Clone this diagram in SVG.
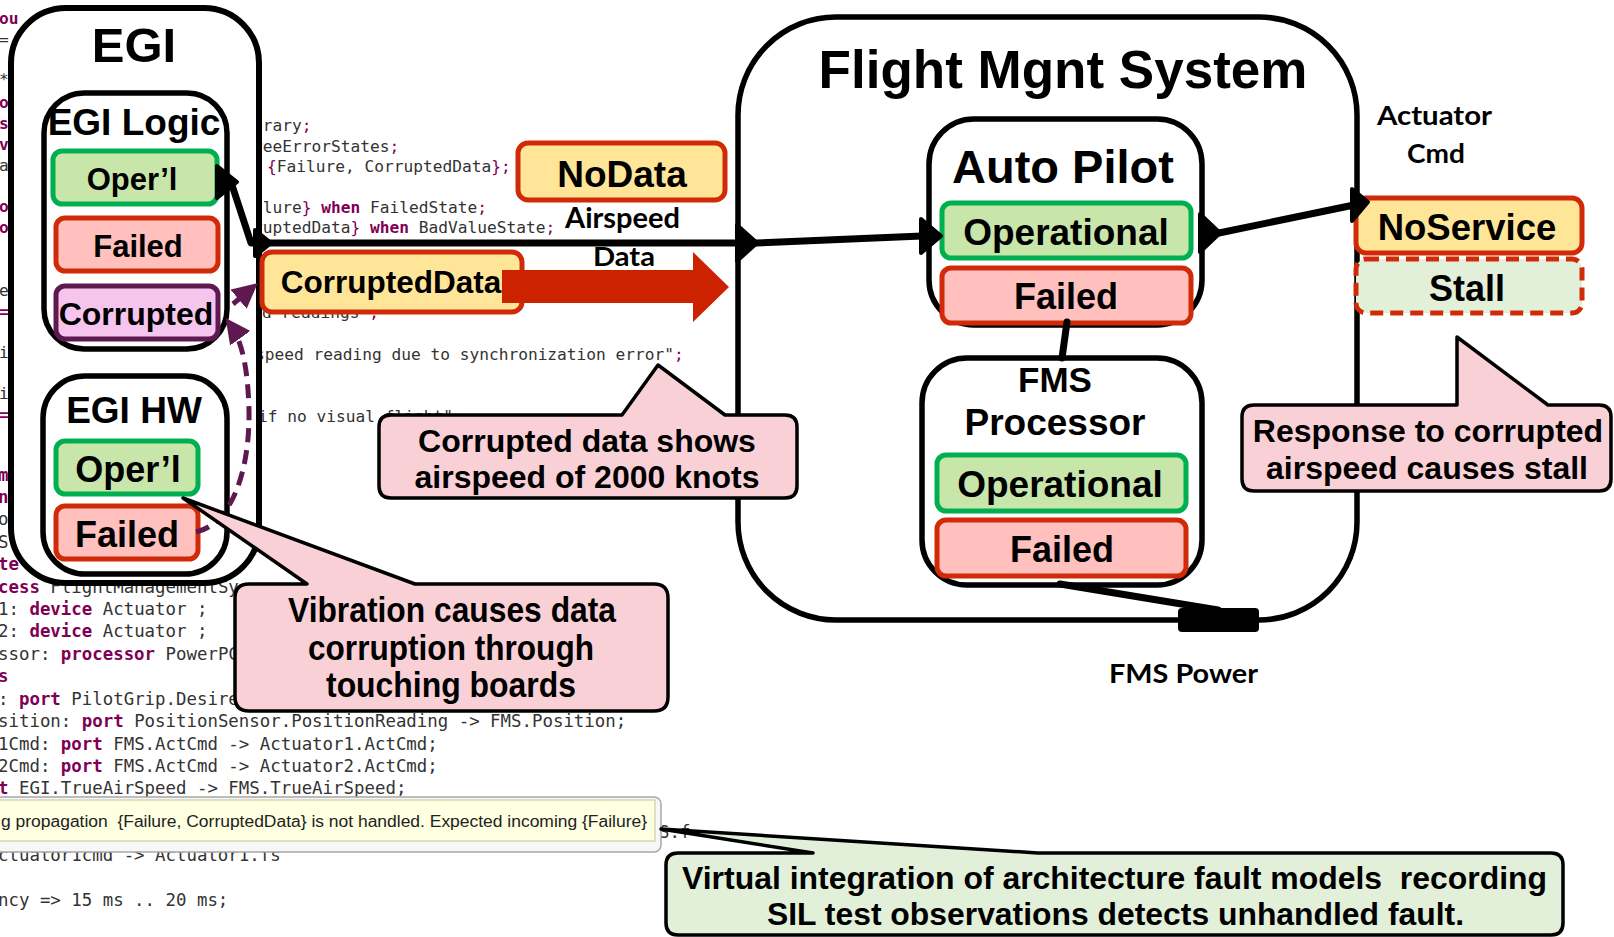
<svg xmlns="http://www.w3.org/2000/svg" width="1614" height="937" viewBox="0 0 1614 937">
  <style>
    .code { font-family: "DejaVu Sans Mono", "Liberation Mono", monospace; font-size: 16.2px; fill: #333333; }
    .codeb { font-family: "DejaVu Sans Mono", "Liberation Mono", monospace; font-size: 17.4px; fill: #333333; }
    .kw { fill: #7F0055; font-weight: bold; }
    .pn { fill: #7F0055; }
    .lbl { font-family: "Liberation Sans", Arial, sans-serif; font-weight: bold; fill: #000; text-anchor: middle; }
    .cond { font-family: "Liberation Sans", Arial, sans-serif; font-weight: bold; fill: #000; }
    .cal { font-family: Lato, "Open Sans", sans-serif; font-weight: bold; fill: #000; }
    .cont { fill: #fff; stroke: #000; }
    .oper { fill: #C8E6AA; stroke: #00B050; stroke-width: 5; }
    .fail { fill: #FFC0BE; stroke: #D12A08; stroke-width: 5; }
    .corr { fill: #F6C5EE; stroke: #5E1A50; stroke-width: 5; }
    .err { fill: #FFE597; stroke: #D12A08; stroke-width: 5; }
    .stall { fill: #E2EFD9; stroke: #D12A08; stroke-width: 5; stroke-dasharray: 13 7; }
    .callout { fill: #F9D0D6; stroke: #000; stroke-width: 3.5; stroke-linejoin: round; }
    .callg { fill: #E2EFD9; stroke: #000; stroke-width: 3.5; stroke-linejoin: round; }
    .wire { fill: none; stroke: #000; stroke-width: 7; stroke-linecap: round; stroke-linejoin: round; }
    .port { fill: #000; stroke: #000; stroke-width: 4; stroke-linejoin: round; }
    .prop { fill: none; stroke: #5E1A50; stroke-width: 5; stroke-dasharray: 14 8; }
  </style>
  <defs>
    <marker id="purpleHead" viewBox="0 0 10 10" refX="7" refY="5" markerWidth="5" markerHeight="5" orient="auto" markerUnits="strokeWidth">
      <path d="M0,0 L10,5 L0,10 Z" fill="#5E1A50"/>
    </marker>
  </defs>

  <rect width="1614" height="937" fill="#fff"/>

  <!-- AADL source listing in the background -->
  <g id="source-listing">
    <text class="code" x="-1" y="24"><tspan class="kw">ou</tspan></text>
    <text class="code" x="-1" y="45">=</text>
    <text class="code" x="-1" y="85">*</text>
    <text class="code" x="-1" y="108"><tspan class="kw">o</tspan></text>
    <text class="code" x="-1" y="129"><tspan class="kw">s</tspan></text>
    <text class="code" x="-1" y="150"><tspan class="kw">v</tspan></text>
    <text class="code" x="-1" y="171">a</text>
    <text class="code" x="-1" y="212"><tspan class="kw">o</tspan></text>
    <text class="code" x="-1" y="233"><tspan class="kw">o</tspan></text>
    <text class="code" x="-1" y="296">e</text>
    <text class="code" x="-1" y="317"><tspan class="kw">=</tspan></text>
    <text class="code" x="-1" y="358">i</text>
    <text class="code" x="-1" y="399">i</text>
    <text class="code" x="-1" y="420"><tspan class="kw">=</tspan></text>

    <text class="code" x="253" y="131">brary<tspan class="pn">;</tspan></text>
    <text class="code" x="253" y="152">reeErrorStates<tspan class="pn">;</tspan></text>
    <text class="code" x="267" y="172"><tspan class="pn">{</tspan>Failure, CorruptedData<tspan class="pn">};</tspan></text>
    <text class="code" x="253" y="213">ilure<tspan class="pn">}</tspan> <tspan class="kw">when</tspan> FailedState<tspan class="pn">;</tspan></text>
    <text class="code" x="253" y="233">ruptedData<tspan class="pn">}</tspan> <tspan class="kw">when</tspan> BadValueState<tspan class="pn">;</tspan></text>
    <text class="code" x="262" y="318">d readings"<tspan class="pn">;</tspan></text>
    <text class="code" x="255" y="360">speed reading due to synchronization error"<tspan class="pn">;</tspan></text>
    <text class="code" x="258" y="422">if no visual flight"<tspan class="pn">;</tspan></text>

    <text class="codeb" x="-2" y="481"><tspan class="kw">m</tspan></text>
    <text class="codeb" x="-2" y="503"><tspan class="kw">n</tspan></text>
    <text class="codeb" x="-2" y="525">o</text>
    <text class="codeb" x="-2" y="548">S</text>
    <text class="codeb" x="-2" y="570"><tspan class="kw">te</tspan></text>
    <text class="codeb" x="-2" y="593"><tspan class="kw">cess</tspan> FlightManagementSy</text>
    <text class="codeb" x="-2" y="615">1: <tspan class="kw">device</tspan> Actuator ;</text>
    <text class="codeb" x="-2" y="637">2: <tspan class="kw">device</tspan> Actuator ;</text>
    <text class="codeb" x="-2" y="660">ssor: <tspan class="kw">processor</tspan> PowerPC</text>
    <text class="codeb" x="-2" y="682"><tspan class="kw">s</tspan></text>
    <text class="codeb" x="-2" y="705">: <tspan class="kw">port</tspan> PilotGrip.Desire</text>
    <text class="codeb" x="-2" y="727">sition: <tspan class="kw">port</tspan> PositionSensor.PositionReading -&gt; FMS.Position;</text>
    <text class="codeb" x="-2" y="750">1Cmd: <tspan class="kw">port</tspan> FMS.ActCmd -&gt; Actuator1.ActCmd;</text>
    <text class="codeb" x="-2" y="772">2Cmd: <tspan class="kw">port</tspan> FMS.ActCmd -&gt; Actuator2.ActCmd;</text>
    <text class="codeb" x="-2" y="794"><tspan class="kw">t</tspan> EGI.TrueAirSpeed -&gt; FMS.TrueAirSpeed;</text>
    <line x1="18" y1="798" x2="410" y2="798" stroke="#C07070" stroke-width="1.5" stroke-dasharray="2 2"/>
    <text class="codeb" x="659" y="838">S.f</text>
    <text class="codeb" x="-2" y="861">ctuator1cmd -&gt; Actuator1.fs</text>
    <text class="codeb" x="-2" y="906">ncy =&gt; 15 ms .. 20 ms;</text>
  </g>

  <!-- EGI -->
  <g id="egi">
    <rect class="cont" x="11" y="8" width="248" height="575" rx="55" stroke-width="6"/>
    <text class="lbl" x="134" y="62" font-size="49">EGI</text>
  </g>
  <g id="egi-logic">
    <rect class="cont" x="44" y="93" width="183" height="256" rx="40" stroke-width="5.5"/>
    <text class="lbl" x="134" y="135" font-size="37">EGI Logic</text>
    <rect class="oper" x="53" y="151" width="164" height="53" rx="9"/>
    <text class="lbl" x="132" y="190" font-size="31">Oper’l</text>
    <rect class="fail" x="56" y="218" width="162" height="53" rx="9"/>
    <text class="lbl" x="138" y="257" font-size="31">Failed</text>
    <rect class="corr" x="56" y="286" width="162" height="53" rx="9"/>
    <text class="lbl" x="136" y="325" font-size="32">Corrupted</text>
  </g>
  <g id="egi-hw">
    <rect class="cont" x="43" y="376" width="184" height="198" rx="42" stroke-width="5.5"/>
    <text class="lbl" x="134" y="423" font-size="37">EGI HW</text>
    <rect class="oper" x="56" y="441" width="142" height="53" rx="9"/>
    <text class="lbl" x="128" y="482" font-size="36">Oper’l</text>
    <rect class="fail" x="56" y="506" width="142" height="53" rx="9"/>
    <text class="lbl" x="127" y="547" font-size="36">Failed</text>
  </g>

  <!-- Flight management system -->
  <g id="fms">
    <rect class="cont" x="738" y="17" width="619" height="603" rx="98" stroke-width="5.5"/>
    <text class="lbl" x="1063" y="88" font-size="53">Flight Mgnt System</text>
  </g>
  <g id="auto-pilot">
    <rect class="cont" x="929" y="119" width="273" height="206" rx="45" stroke-width="5.5"/>
    <text class="lbl" x="1063" y="183" font-size="47">Auto Pilot</text>
    <rect class="oper" x="942" y="203" width="249" height="55" rx="9"/>
    <text class="lbl" x="1066" y="245" font-size="37">Operational</text>
    <rect class="fail" x="942" y="268" width="249" height="55" rx="9"/>
    <text class="lbl" x="1066" y="309" font-size="36">Failed</text>
  </g>
  <g id="fms-processor">
    <rect class="cont" x="922" y="358" width="280" height="227" rx="45" stroke-width="5.5"/>
    <text class="lbl" x="1055" y="392" font-size="35">FMS</text>
    <text class="lbl" x="1055" y="435" font-size="37">Processor</text>
    <rect class="oper" x="937" y="455" width="249" height="56" rx="9"/>
    <text class="lbl" x="1060" y="497" font-size="37">Operational</text>
    <rect class="fail" x="937" y="520" width="249" height="56" rx="9"/>
    <text class="lbl" x="1062" y="562" font-size="36">Failed</text>
  </g>
  <g id="fms-power">
    <rect x="1178" y="608" width="81" height="24" rx="4" fill="#000"/>
    <text class="cal" x="1109" y="683" font-size="26" textLength="149" lengthAdjust="spacingAndGlyphs">FMS Power</text>
  </g>

  <!-- Error types on the airspeed port -->
  <g id="nodata">
    <rect class="err" x="518" y="143" width="207" height="57" rx="10"/>
    <text class="lbl" x="622" y="187" font-size="37">NoData</text>
  </g>
  <g id="airspeed-label">
    <text class="cal" x="565" y="228" font-size="28" textLength="115" lengthAdjust="spacingAndGlyphs">Airspeed</text>
    <text class="cal" x="593" y="266" font-size="27" textLength="62" lengthAdjust="spacingAndGlyphs">Data</text>
  </g>
  <g id="corrupteddata">
    <rect class="err" x="262" y="252" width="260" height="60" rx="10"/>
    <text class="lbl" x="391" y="293" font-size="31.5">CorruptedData</text>
  </g>
  <g id="propagation-arrow">
    <polygon points="502,270 693,270 693,252 729,287 693,322 693,303 502,303" fill="#CC2200"/>
  </g>

  <!-- Actuator command errors -->
  <g id="actuator-label">
    <text class="cal" x="1377" y="125" font-size="26" textLength="115" lengthAdjust="spacingAndGlyphs">Actuator</text>
    <text class="cal" x="1407" y="163" font-size="26" textLength="58" lengthAdjust="spacingAndGlyphs">Cmd</text>
  </g>
  <g id="noservice">
    <rect class="err" x="1356" y="198" width="226" height="55" rx="10"/>
    <text class="lbl" x="1467" y="240" font-size="36.5">NoService</text>
  </g>
  <g id="stall">
    <rect class="stall" x="1356" y="259" width="226" height="54" rx="10"/>
    <text class="lbl" x="1467" y="301" font-size="36">Stall</text>
  </g>

  <!-- Connections, ports and error flows -->
  <g id="connectors">
    <path class="wire" d="M231,182 L251,243 L740,243"/>
    <polygon class="port" points="217,166 237,182 217,198"/>
    <polygon class="port" points="255,230 271,243 255,256"/>
    <path class="wire" d="M756,243 L922,236"/>
    <polygon class="port" points="737,225 757,243 737,261"/>
    <polygon class="port" points="921,219 941,236 921,253"/>
    <path class="wire" d="M1219,233 L1354,205"/>
    <polygon class="port" points="1200,214 1220,233 1200,252"/>
    <polygon class="port" points="1352,189 1368,202 1352,221"/>
    <path class="wire" d="M1067,322 L1062,358"/>
    <path class="wire" d="M1060,584 L1218,610"/>
    <path class="prop" d="M196,532 C232,524 250,470 249,410 C248,372 243,342 230,324" marker-end="url(#purpleHead)"/>
    <path class="prop" d="M233,304 L252,288" marker-end="url(#purpleHead)"/>
  </g>

  <!-- Annotations -->
  <g id="note-corrupted-data">
    <path class="callout" d="M391,415 L622,415 L658,365 L725,415 L785,415 Q797,415 797,427 L797,486 Q797,498 785,498 L391,498 Q379,498 379,486 L379,427 Q379,415 391,415 Z"/>
    <text class="lbl" x="587" y="452" font-size="32">Corrupted data shows</text>
    <text class="lbl" x="587" y="488" font-size="32">airspeed of 2000 knots</text>
  </g>
  <g id="note-vibration">
    <path class="callout" d="M249,584 L307,584 L183,498 L415,584 L654,584 Q668,584 668,598 L668,697 Q668,711 654,711 L249,711 Q235,711 235,697 L235,598 Q235,584 249,584 Z"/>
    <text class="cond" x="288" y="622" font-size="35" textLength="328" lengthAdjust="spacingAndGlyphs">Vibration causes data</text>
    <text class="cond" x="308" y="660" font-size="35" textLength="286" lengthAdjust="spacingAndGlyphs">corruption through</text>
    <text class="cond" x="326" y="697" font-size="35" textLength="250" lengthAdjust="spacingAndGlyphs">touching boards</text>
  </g>
  <g id="note-stall">
    <path class="callout" d="M1254,405 L1457,405 L1457,337 L1548,405 L1599,405 Q1611,405 1611,417 L1611,479 Q1611,491 1599,491 L1254,491 Q1242,491 1242,479 L1242,417 Q1242,405 1254,405 Z"/>
    <text class="lbl" x="1428" y="442" font-size="32">Response to corrupted</text>
    <text class="lbl" x="1427" y="479" font-size="32">airspeed causes stall</text>
  </g>

  <!-- Editor hover message -->
  <g id="hover-message">
    <rect x="-10" y="797" width="671" height="55" rx="7" fill="#F7F7F7" stroke="#A8A8A8" stroke-width="1.5"/>
    <rect x="-6" y="800" width="661" height="41" fill="#FFFFE1" stroke="#C4C49A" stroke-width="1"/>
    <text x="1" y="827" font-family="'Liberation Sans', Arial, sans-serif" font-size="16" fill="#222" textLength="646" lengthAdjust="spacingAndGlyphs">g propagation&#160; {Failure, CorruptedData} is not handled. Expected incoming {Failure}</text>
  </g>

  <g id="note-virtual-integration">
    <path class="callg" d="M678,853 L813,853 L661,829 L1038,853 L1551,853 Q1563,853 1563,865 L1563,923 Q1563,935 1551,935 L678,935 Q666,935 666,923 L666,865 Q666,853 678,853 Z"/>
    <text class="cond" x="682" y="889" font-size="32" textLength="865" lengthAdjust="spacingAndGlyphs">Virtual integration of architecture fault models&#160; recording</text>
    <text class="cond" x="767" y="925" font-size="32" textLength="697" lengthAdjust="spacingAndGlyphs">SIL test observations detects unhandled fault.</text>
  </g>
</svg>
